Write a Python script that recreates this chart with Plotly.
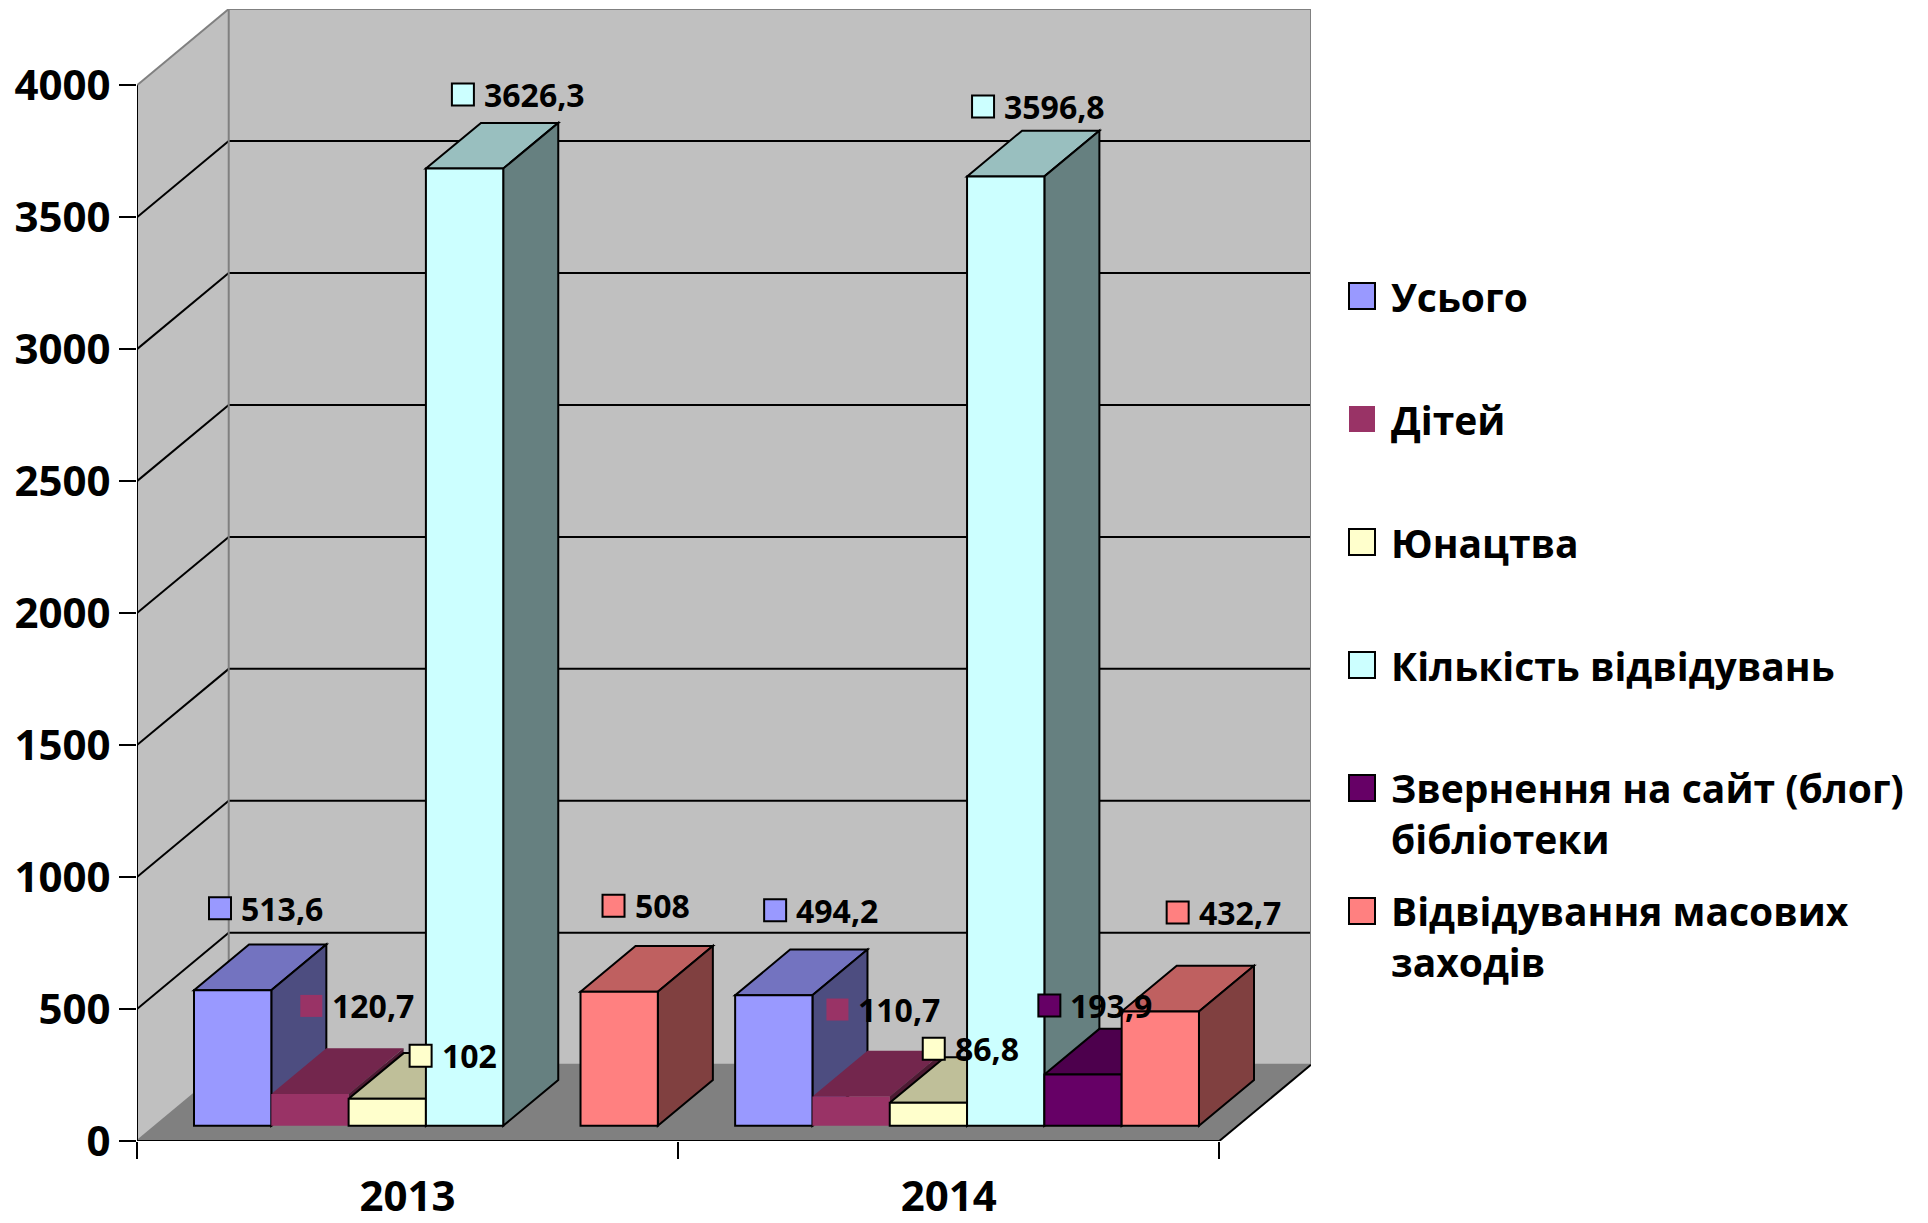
import plotly.graph_objects as go

# ---------------- data ----------------
categories = ["2013", "2014"]
series_names = [
    "Усього",
    "Дітей",
    "Юнацтва",
    "Кількість відвідувань",
    "Звернення на сайт (блог)<br>бібліотеки",
    "Відвідування масових<br>заходів",
]
usoho = [513.6, 494.2]
ditei = [120.7, 110.7]
yunatstva = [102, 86.8]
kilkist_vidviduvan = [3626.3, 3596.8]
zvernennia_sait = [None, 193.9]
vidviduvannia_zakhodiv = [508, 432.7]
y_tick_values = [0, 500, 1000, 1500, 2000, 2500, 3000, 3500, 4000]

series_values = [usoho, ditei, yunatstva, kilkist_vidviduvan,
                 zvernennia_sait, vidviduvannia_zakhodiv]

# ---------------- style ----------------
FONT = "Open Sans"
front_colors = ["#9999FF", "#993366", "#FFFFCC", "#CCFFFF", "#660066", "#FF8080"]
top_colors = ["#7373C0", "#73264D", "#BFBF99", "#99BFBF", "#4D004D", "#BF6060"]
side_colors = ["#4D4D80", "#4D1A33", "#808066", "#668080", "#330033", "#804040"]
outline = [2, 0, 2, 2, 2, 2]
# pixel nudges of data labels relative to each bar's front top-left corner
label_nudge = [
    [(26, -82), (40, -88), (72, -43), (37, -74), None, (33, -86)],
    [(40, -85), (25, -87), (44, -54), (16, -70), (5, -69), (56, -99)],
]

W, H = 1928, 1223
ML, MR, MT, MB = 137, 617, 9, 82
PW, PH = W - ML - MR, H - MT - MB

NS = len(series_values)
BW = 1.0 / (NS + 1)          # bar width (gap = one bar)
F0, FD = 0.2, 0.6            # bar front depth fraction and bar depth fraction
DX, DY = 0.1695, 288.7       # full depth offset in axis units
YMAX = y_tick_values[-1]
XMAX = len(categories) + DX
YTOP = YMAX + DY
PXX = PW / XMAX
PXY = PH / YTOP

WALL = "#C0C0C0"
FLOOR = "#808080"
EDGE = "#808080"

shapes = []


def line(x0, y0, x1, y1, color="black", width=2):
    shapes.append(dict(type="line", xref="x", yref="y", x0=x0, y0=y0, x1=x1, y1=y1,
                       line=dict(color=color, width=width), layer="below"))


def poly(pts, fill, lw=0, lc="black"):
    path = "M " + " L ".join(f"{x},{y}" for x, y in pts) + " Z"
    shapes.append(dict(type="path", xref="x", yref="y", path=path, fillcolor=fill,
                       line=dict(color=lc, width=lw), layer="below"))


nc = len(categories)
# walls and floor
poly([(DX, DY), (nc + DX, DY), (nc + DX, YTOP), (DX, YTOP)], WALL)
poly([(0, 0), (DX, DY), (DX, YTOP), (0, YMAX)], WALL)
poly([(0, 0), (nc, 0), (nc + DX, DY), (DX, DY)], FLOOR)
for v in y_tick_values[1:-1]:
    line(0, v, DX, v + DY)
    line(DX, v + DY, nc + DX, v + DY)
line(0, YMAX, DX, YTOP, EDGE)
line(DX, YTOP, nc + DX, YTOP, EDGE)
line(DX, DY, DX, YTOP, EDGE)
line(nc + DX, DY, nc + DX, YTOP, EDGE)
line(DX, DY, nc + DX, DY, EDGE)
line(0, 0, DX, DY, EDGE)
line(nc, 0, nc + DX, DY)
line(0, 0, 0, YMAX)
line(0, 0, nc, 0)


def bar_x0(c, i):
    return c + BW / 2 + i * BW + F0 * DX


# top and side faces, painted left to right
for c in range(nc):
    for i in range(NS):
        v = series_values[i][c]
        if v is None:
            continue
        x0 = bar_x0(c, i)
        x1 = x0 + BW
        yb = F0 * DY
        yt = yb + v
        ddx, ddy = FD * DX, FD * DY
        poly([(x0, yt), (x1, yt), (x1 + ddx, yt + ddy), (x0 + ddx, yt + ddy)],
             top_colors[i], outline[i])
        poly([(x1, yb), (x1 + ddx, yb + ddy), (x1 + ddx, yt + ddy), (x1, yt)],
             side_colors[i], outline[i])

fig = go.Figure()

# front faces as bars
for i in range(NS):
    xs, ys = [], []
    for c in range(nc):
        xs.append(bar_x0(c, i) + BW / 2)
        ys.append(series_values[i][c])
    fig.add_trace(go.Bar(
        x=xs, y=ys, base=F0 * DY, width=BW, name=series_names[i].replace("<br>", " "),
        marker=dict(color=front_colors[i], line=dict(color="black", width=outline[i])),
        showlegend=False, hoverinfo="skip"))

# data labels
annotations = []
for i in range(NS):
    mx, my = [], []
    for c in range(nc):
        v = series_values[i][c]
        if v is None:
            continue
        nx, ny = label_nudge[c][i]
        x = bar_x0(c, i) + nx / PXX
        y = F0 * DY + v - ny / PXY
        mx.append(x)
        my.append(y)
        txt = f"{v:g}".replace(".", ",")
        annotations.append(dict(x=x, y=y, xref="x", yref="y", text=txt, showarrow=False,
                                xanchor="left", yanchor="middle", xshift=19,
                                font=dict(family=FONT, size=32, color="black", weight="bold")))
    fig.add_trace(go.Scatter(
        x=mx, y=my, mode="markers", showlegend=False, hoverinfo="skip",
        marker=dict(symbol="square", size=22, color=front_colors[i],
                    line=dict(color="black", width=outline[i]))))

# custom legend (large keys)
LEG_X, LEG_Y0, LEG_STEP, LEG_KEY, LEG_FS = 1349, 296, 123, 26, 39
for i, name in enumerate(series_names):
    cy = LEG_Y0 + i * LEG_STEP
    nlines = name.count("<br>") + 1
    kx0 = (LEG_X - ML) / PW
    kx1 = (LEG_X + LEG_KEY - ML) / PW
    ky0 = 1 - (cy - LEG_KEY / 2 - MT) / PH
    ky1 = 1 - (cy + LEG_KEY / 2 - MT) / PH
    shapes.append(dict(type="rect", xref="paper", yref="paper", x0=kx0, x1=kx1, y0=ky1, y1=ky0,
                       fillcolor=front_colors[i],
                       line=dict(color="black", width=outline[i])))
    lh = 1.3 * LEG_FS
    tc = cy + (nlines - 1) * lh / 2
    annotations.append(dict(x=(LEG_X + LEG_KEY + 14 - ML) / PW, y=1 - (tc - MT) / PH,
                            xref="paper", yref="paper", text=name, showarrow=False,
                            xanchor="left", yanchor="middle", align="left",
                            font=dict(family=FONT, size=LEG_FS, color="black", weight="bold")))

fig.update_layout(
    width=W, height=H,
    margin=dict(l=ML, r=MR, t=MT, b=MB, pad=0, autoexpand=False),
    paper_bgcolor="white", plot_bgcolor="white",
    barmode="overlay",
    shapes=shapes, annotations=annotations,
    showlegend=False,
    xaxis=dict(range=[0, XMAX], tickvals=[c + 0.5 for c in range(nc)], ticktext=categories,
               ticks="", showgrid=False, zeroline=False, showline=False, automargin=False,
               tickfont=dict(family=FONT, size=42, color="black", weight="bold"),
               ticklabelstandoff=27,
               minor=dict(tickvals=list(range(nc + 1)), ticks="outside", ticklen=17,
                          tickwidth=2, tickcolor="black", showgrid=False)),
    yaxis=dict(range=[0, YTOP], tickvals=y_tick_values, ticktext=[str(v) for v in y_tick_values],
               ticks="outside", ticklen=17, tickwidth=2, tickcolor="black",
               showgrid=False, zeroline=False, showline=False, automargin=False,
               tickfont=dict(family=FONT, size=42, color="black", weight="bold"),
               ticklabelstandoff=0),
)

fig.write_html("out.html", config={"displayModeBar": False},
               post_script="document.body.style.margin='0px';document.body.style.overflow='hidden';")
